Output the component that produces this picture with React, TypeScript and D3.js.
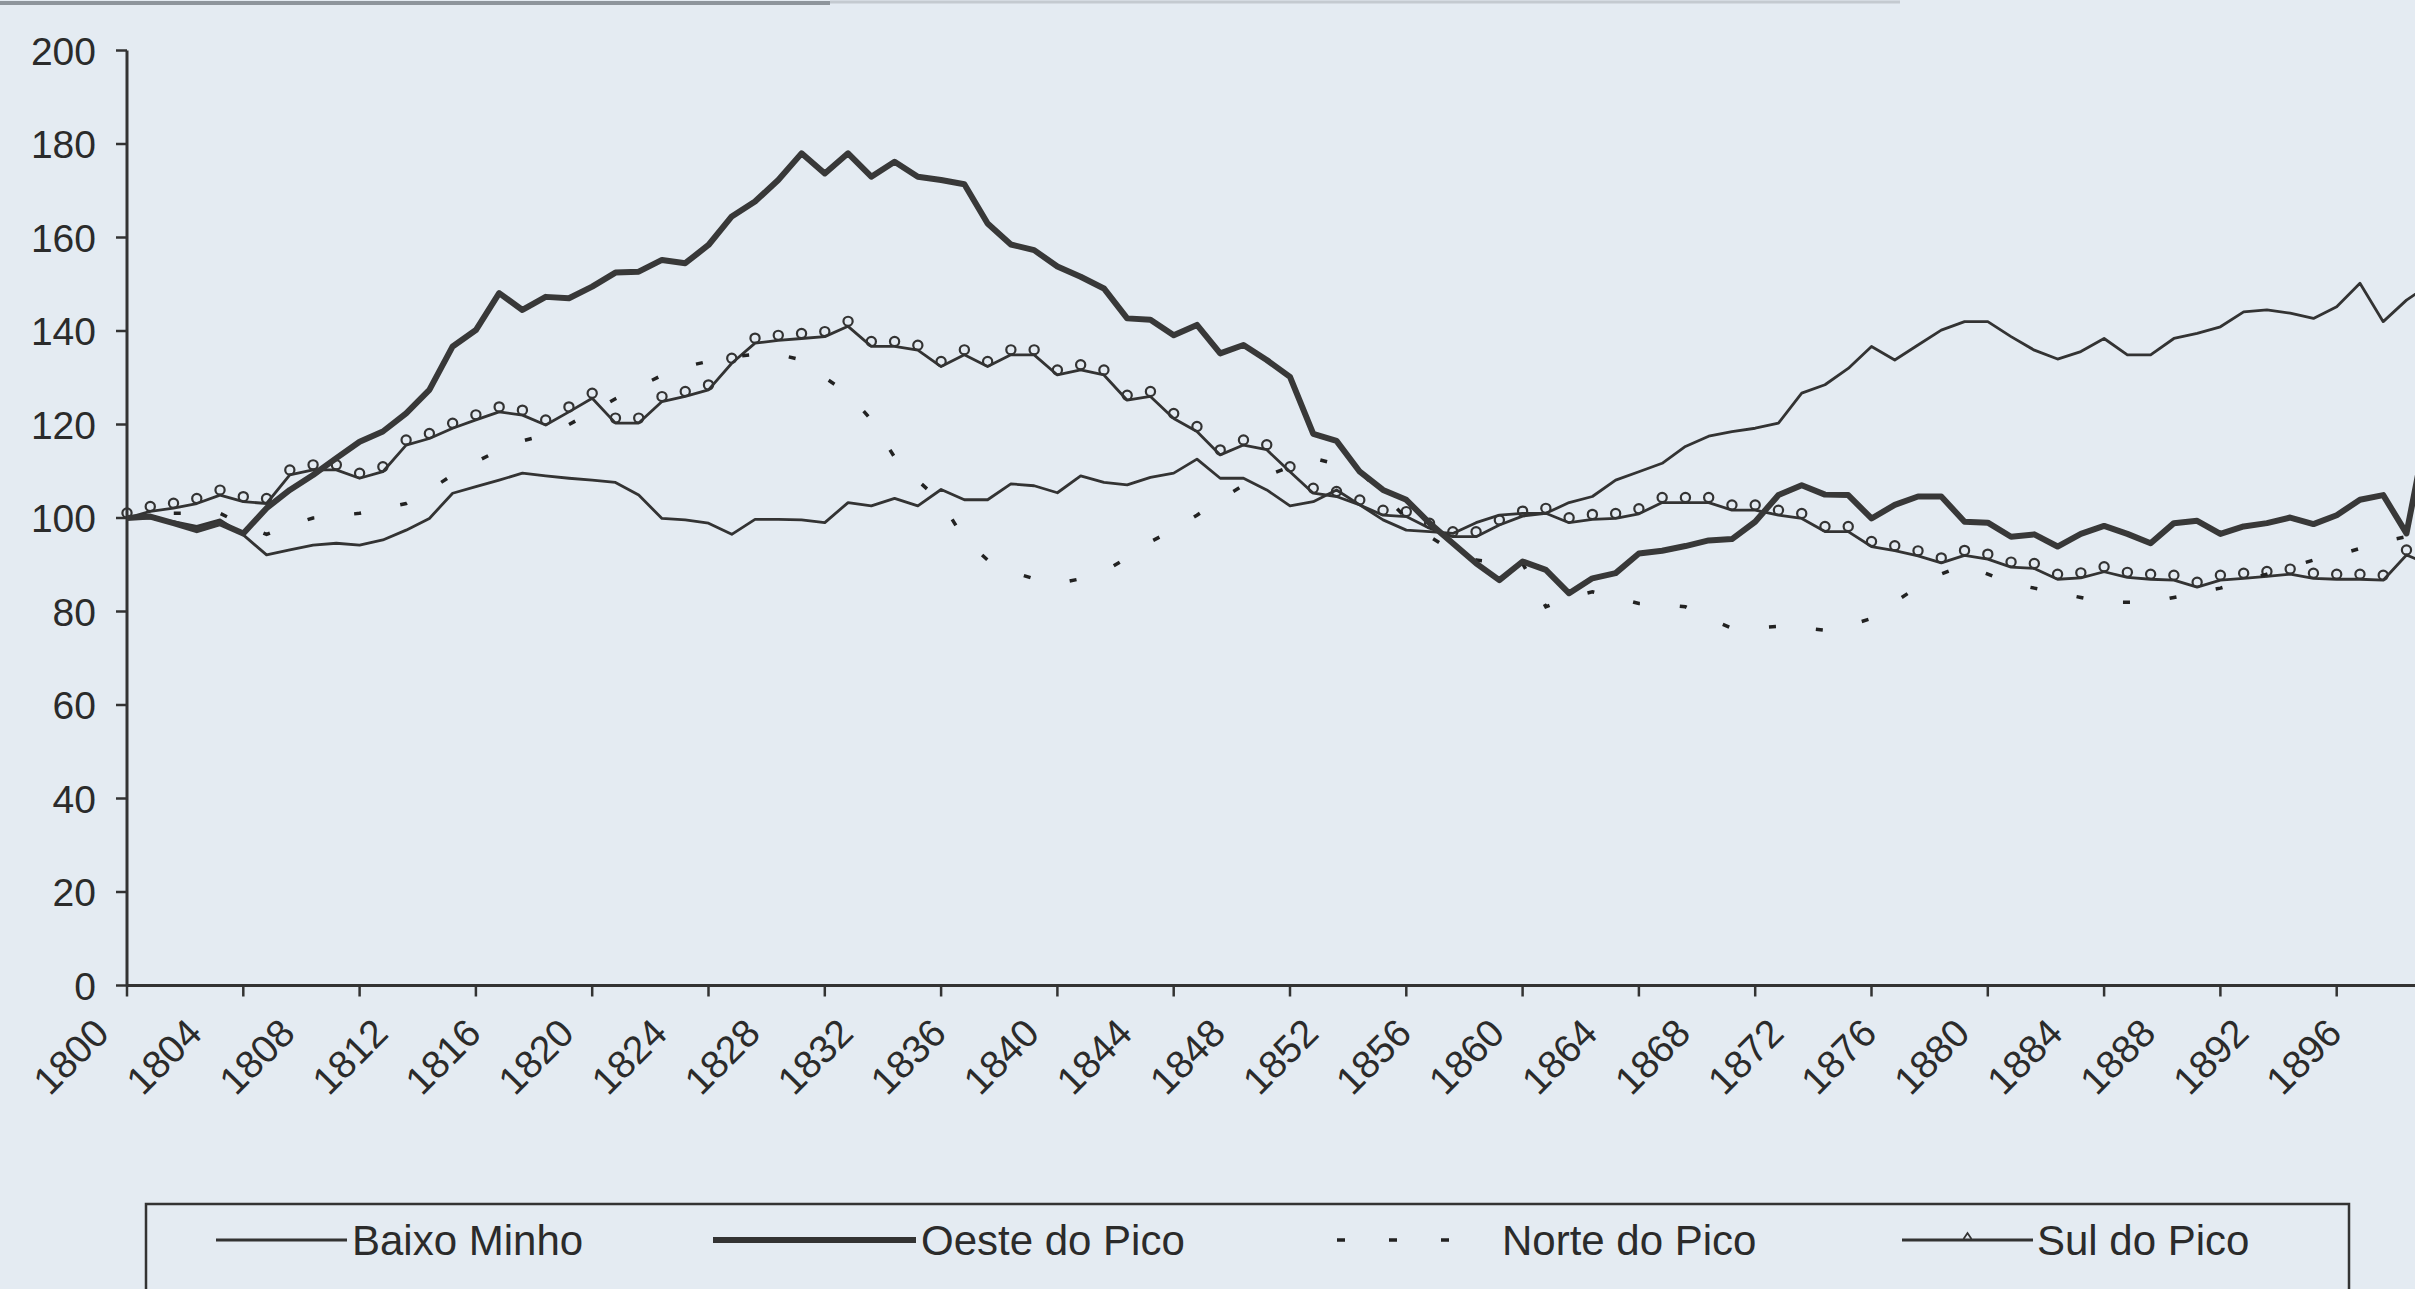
import * as d3 from 'd3'

// yearly index values, 1800 = 100
const years = d3.range(1800, 1900)

const baixoMinho = [
  100, 100, 99.2, 98.2, 99.6, 96.4, 92.1, 93.2, 94.2, 94.6,
  94.2, 95.3, 97.4, 99.9, 105.3, 106.7, 108.1, 109.6, 109, 108.5,
  108.1, 107.6, 104.9, 99.9, 99.6, 98.9, 96.5, 99.7, 99.7, 99.6,
  99, 103.3, 102.6, 104.2, 102.6, 106.1, 103.9, 103.9, 107.3, 106.9,
  105.4, 109, 107.6, 107.1, 108.7, 109.6, 112.6, 108.5, 108.5, 106,
  102.6, 103.5, 106, 102.8, 99.6, 97.4, 97.1, 96.7, 99, 100.6,
  101, 101, 103.3, 104.6, 108.1, 109.9, 111.7, 115.3, 117.5, 118.5,
  119.2, 120.3, 126.7, 128.5, 132, 136.7, 133.8, 137, 140.2, 142,
  142, 138.8, 135.9, 134, 135.6, 138.4, 134.9, 134.9, 138.4, 139.5,
  140.9, 144.1, 144.5, 143.8, 142.7, 145.2, 150.2, 142, 146.6, 150,
]

const oesteDoPico = [
  100, 100.3, 98.9, 97.4, 98.9, 96.7, 102.1, 106, 109.2, 112.8,
  116.3, 118.5, 122.4, 127.4, 136.7, 140.2, 148.1, 144.5, 147.3, 147,
  149.5, 152.5, 152.7, 155.2, 154.5, 158.4, 164.5, 167.7, 172.3, 178,
  173.7, 178, 173, 176.2, 173, 172.3, 171.4, 163, 158.5, 157.3,
  153.8, 151.6, 149.1, 142.7, 142.4, 139.1, 141.3, 135.2, 137, 133.8,
  130.2, 118, 116.5, 109.9, 106, 103.9, 98.9, 94.6, 90.3, 86.7,
  90.7, 88.9, 83.9, 87.1, 88.2, 92.4, 93, 94, 95.2, 95.5,
  99.2, 104.9, 107, 105, 104.9, 99.9, 102.8, 104.6, 104.6, 99.2,
  99, 96, 96.5, 93.9, 96.6, 98.3, 96.6, 94.6, 98.9, 99.4,
  96.6, 98.2, 98.9, 100.1, 98.7, 100.6, 103.9, 104.9, 96.7, 122,
]

const norteDoPico = [
  100, 100.5, 101, 101, 101, 98.5, 96.5, 98.5, 100, 100.5,
  101, 102, 103.1, 106, 109.2, 112, 114.5, 116.5, 117.8, 120,
  122.7, 125.5, 128.1, 130.5, 132.4, 133.5, 134.5, 135, 135, 133.8,
  130, 126.7, 121, 113, 108, 103.5, 95.5, 91, 88.5, 87,
  86, 87, 88.5, 91.5, 94.9, 97.5, 100.6, 104, 107, 109,
  111, 112.8, 111.5, 110, 105, 100, 96, 93, 91, 90.5,
  90.3, 81, 83, 84.2, 83, 81.7, 81.5, 81, 78.5, 76.4,
  76.5, 76.8, 76.5, 76, 77, 78.5, 82, 85.3, 88, 90,
  88, 86, 85, 84, 83, 82, 82, 82, 83, 84,
  85, 86.5, 88, 89.5, 91, 92, 93.5, 95, 96, 97,
]

const sulDoPico = [
  100, 101.4, 102.1, 103.1, 104.9, 103.5, 103.1, 109.2, 110.3, 110.3,
  108.5, 109.9, 115.6, 117, 119.2, 121, 122.7, 122, 119.9, 122.7,
  125.6, 120.3, 120.3, 124.9, 126, 127.4, 133.1, 137.4, 138, 138.4,
  138.8, 141, 136.7, 136.7, 135.9, 132.4, 134.9, 132.4, 134.9, 134.9,
  130.6, 131.7, 130.6, 125.2, 126, 121.3, 118.5, 113.5, 115.6, 114.6,
  109.9, 105.3, 104.6, 102.8, 100.6, 100.3, 97.8, 96, 96, 98.5,
  100.4, 101, 99, 99.7, 99.9, 100.9, 103.3, 103.3, 103.3, 101.7,
  101.7, 100.6, 99.9, 97.1, 97.1, 93.9, 93, 91.9, 90.4, 92,
  91.2, 89.5, 89.2, 86.9, 87.2, 88.5, 87.3, 86.9, 86.7, 85.2,
  86.7, 87.1, 87.5, 88, 87.1, 86.9, 86.9, 86.7, 92.1, 90,
]

const yTicks = [0, 20, 40, 60, 80, 100, 120, 140, 160, 180, 200]
const xTickYears = d3.range(1800, 1900, 5)
const xLabelYears = d3.range(1800, 1900, 4)

const legendNames = ['Baixo Minho', 'Oeste do Pico', 'Norte do Pico', 'Sul do Pico']

const W = 2415
const H = 1289
const INK = '#333333'
const FONT = '"Liberation Sans", Arial, sans-serif'

export default function App() {
  const x = d3.scaleLinear().domain([1800, 1895]).range([127, 2336.7])
  const y = d3.scaleLinear().domain([0, 200]).range([985.5, 50.5])

  const line = d3.line<number>()
    .x((d, i) => x(years[i]))
    .y(d => y(d))

  const y0 = y(0)
  const xLeft = x(1800)

  // legend layout
  const legY = 1240
  const legItems = [
    { name: legendNames[0], x1: 216, x2: 347, tx: 352 },
    { name: legendNames[1], x1: 713, x2: 916, tx: 921 },
    { name: legendNames[2], x1: 1337, x2: 1460, tx: 1502 },
    { name: legendNames[3], x1: 1902, x2: 2033, tx: 2037 },
  ]

  return (
    <div style={{ position: 'fixed', left: 0, top: 0, width: W, height: H, overflow: 'hidden', background: '#e4ebf2' }}>
      <svg width={W} height={H} style={{ display: 'block' }} fontFamily={FONT}>
        <rect x={0} y={0} width={W} height={H} fill="#e4ebf2" />
        {/* scan border at the top */}
        <line x1={0} x2={830} y1={3} y2={3} stroke="#8e959c" strokeWidth={4} />
        <line x1={830} x2={1900} y1={2} y2={2} stroke="#c4cad0" strokeWidth={3} />

        {/* y axis */}
        <line x1={xLeft} x2={xLeft} y1={y(200)} y2={y0} stroke={INK} strokeWidth={3} />
        {yTicks.map(t => (
          <g key={t}>
            <line x1={xLeft - 11} x2={xLeft} y1={y(t)} y2={y(t)} stroke={INK} strokeWidth={2.5} />
            <text x={96} y={y(t)} dy="0.36em" textAnchor="end" fontSize={39} fill="#2b2b2b">{t}</text>
          </g>
        ))}

        {/* x axis */}
        <line x1={xLeft} x2={W} y1={y0} y2={y0} stroke={INK} strokeWidth={3} />
        {xTickYears.map(t => (
          <line key={t} x1={x(t)} x2={x(t)} y1={y0} y2={y0 + 11} stroke={INK} strokeWidth={2.5} />
        ))}
        {xLabelYears.map(t => (
          <text key={t} transform={`translate(${x(t) - 16},${y0 + 50}) rotate(-45)`} textAnchor="end" fontSize={39} fill="#2b2b2b">{t}</text>
        ))}

        {/* series */}
        <path d={line(baixoMinho) ?? ''} fill="none" stroke={INK} strokeWidth={2.8} strokeLinejoin="round" />
        <path d={line(sulDoPico) ?? ''} fill="none" stroke={INK} strokeWidth={2.8} strokeLinejoin="round" />
        {sulDoPico.map((v, i) => (
          <circle key={i} cx={x(years[i])} cy={y(v) - 5} r={4.6} fill="none" stroke={INK} strokeWidth={2.2} />
        ))}
        <path d={line(norteDoPico) ?? ''} fill="none" stroke="#222" strokeWidth={3.5} strokeDasharray="7 40" />
        <path d={line(oesteDoPico) ?? ''} fill="none" stroke="#383838" strokeWidth={6} strokeLinejoin="round" />

        {/* legend */}
        <rect x={146} y={1204} width={2203} height={140} fill="none" stroke={INK} strokeWidth={2.5} />
        {legItems.map((it, i) => (
          <g key={it.name}>
            {i === 2 ? (
              <line x1={it.x1} x2={it.x2} y1={legY} y2={legY} stroke="#222" strokeWidth={3.5} strokeDasharray="8 44" />
            ) : (
              <line x1={it.x1} x2={it.x2} y1={legY} y2={legY} stroke={INK} strokeWidth={i === 1 ? 6 : 2.8} />
            )}
            {i === 3 && (
              <path d={`M${(it.x1 + it.x2) / 2 - 4},${legY - 1} L${(it.x1 + it.x2) / 2},${legY - 7} L${(it.x1 + it.x2) / 2 + 4},${legY - 1}`} fill="none" stroke={INK} strokeWidth={1.8} />
            )}
            <text x={it.tx} y={legY} dy="0.36em" fontSize={42} fill="#2b2b2b">{it.name}</text>
          </g>
        ))}
      </svg>
    </div>
  )
}
